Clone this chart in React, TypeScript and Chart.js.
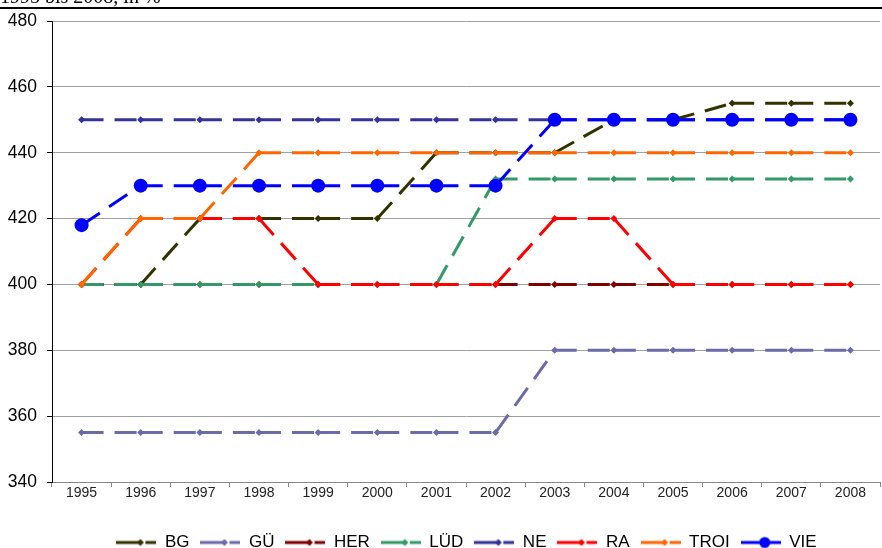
import React, { useEffect, useRef } from "react";
import { Chart, registerables } from "chart.js";

Chart.register(...registerables);

const years = ["1995", "1996", "1997", "1998", "1999", "2000", "2001", "2002", "2003", "2004", "2005", "2006", "2007", "2008"];

const bgValues = [400, 400, 420, 420, 420, 420, 440, 440, 440, 450, 450, 455, 455, 455];
const guValues = [355, 355, 355, 355, 355, 355, 355, 355, 380, 380, 380, 380, 380, 380];
const herValues = [400, 400, 400, 400, 400, 400, 400, 400, 400, 400, 400, 400, 400, 400];
const ludValues = [400, 400, 400, 400, 400, 400, 400, 432, 432, 432, 432, 432, 432, 432];
const neValues = [450, 450, 450, 450, 450, 450, 450, 450, 450, 450, 450, 450, 450, 450];
const raValues = [400, 420, 420, 420, 400, 400, 400, 400, 420, 420, 400, 400, 400, 400];
const troiValues = [400, 420, 420, 440, 440, 440, 440, 440, 440, 440, 440, 440, 440, 440];
const vieValues = [418, 430, 430, 430, 430, 430, 430, 430, 450, 450, 450, 450, 450, 450];

const seriesNames = ["BG", "GÜ", "HER", "LÜD", "NE", "RA", "TROI", "VIE"];
const seriesValues = [bgValues, guValues, herValues, ludValues, neValues, raValues, troiValues, vieValues];
const seriesColors = ["#333300", "#6b6ba8", "#800000", "#339966", "#333399", "#ff0000", "#ff6600", "#0000ff"];
const seriesMarkers = ["rectRot", "rectRot", "rectRot", "rectRot", "rectRot", "rectRot", "rectRot", "circle"];

const yTicks = [340, 360, 380, 400, 420, 440, 460, 480];
const titleText = "1995 bis 2008, in %";

const FONT = 'Arial, "Liberation Sans", sans-serif';

function makeSample(color: string, marker: string): HTMLCanvasElement {
  const c = document.createElement("canvas");
  c.width = 40;
  c.height = 14;
  const g = c.getContext("2d")!;
  g.strokeStyle = color;
  g.lineWidth = 3;
  g.beginPath();
  g.moveTo(0, 7);
  g.lineTo(24, 7);
  g.moveTo(29, 7);
  g.lineTo(40, 7);
  g.stroke();
  g.fillStyle = color;
  g.beginPath();
  if (marker === "circle") {
    g.arc(24, 7, 5.5, 0, Math.PI * 2);
  } else {
    g.moveTo(24, 3.5);
    g.lineTo(27.5, 7);
    g.lineTo(24, 10.5);
    g.lineTo(20.5, 7);
    g.closePath();
  }
  g.fill();
  return c;
}

const shiftLegend = {
  id: "shiftLegend",
  afterLayout(chart: any) {
    if (chart.legend) {
      chart.legend.left = 46;
    }
  },
};

export default function App() {
  const canvasRef = useRef<HTMLCanvasElement | null>(null);

  useEffect(() => {
    const canvas = canvasRef.current;
    if (!canvas) return;
    const samples = seriesNames.map((_, i) => makeSample(seriesColors[i], seriesMarkers[i]));
    const datasets = seriesNames.map((name, i) => ({
      label: name,
      data: seriesValues[i],
      borderColor: seriesColors[i],
      backgroundColor: seriesColors[i],
      borderWidth: 3,
      borderDash: [22, 11],
      borderCapStyle: "butt" as const,
      pointStyle: seriesMarkers[i] as any,
      pointRadius: seriesMarkers[i] === "circle" ? 7 : 3.5,
      pointBorderWidth: 0,
      pointBackgroundColor: seriesColors[i],
      pointBorderColor: seriesColors[i],
      fill: false,
      tension: 0,
      order: seriesNames.length - i,
      segment: {
        borderDashOffset: (ctx: any) => (ctx.p0DataIndex % 2) * 0.001,
      },
    }));

    const chart = new Chart(canvas, {
      type: "line",
      data: { labels: years, datasets },
      plugins: [shiftLegend],
      options: {
        animation: false,
        responsive: false,
        devicePixelRatio: 1,
        layout: { padding: { top: 21, left: 0, right: 0, bottom: 0 } },
        plugins: {
          title: { display: false },
          tooltip: { enabled: false },
          legend: {
            display: true,
            position: "bottom",
            align: "center",
            labels: {
              usePointStyle: true,
              pointStyleWidth: 40,
              padding: 11,
              color: "#000",
              font: { family: FONT, size: 17 },
              generateLabels: () =>
                seriesNames.map((name, i) => ({
                  text: name,
                  pointStyle: samples[i] as any,
                  fillStyle: "rgba(0,0,0,0)",
                  strokeStyle: "rgba(0,0,0,0)",
                  lineWidth: 0,
                  hidden: false,
                  datasetIndex: i,
                  fontColor: "#000",
                })),
            },
          },
        },
        scales: {
          x: {
            type: "category",
            offset: true,
            grid: {
              offset: true,
              drawOnChartArea: false,
              drawTicks: true,
              tickLength: 5,
              color: "#888",
            },
            border: { display: true, color: "#888", width: 1 },
            ticks: {
              color: "#222",
              font: { family: FONT, size: 14 },
              padding: -2,
              maxRotation: 0,
              autoSkip: false,
            },
            afterFit: (scale: any) => {
              scale.height = 41;
            },
          },
          y: {
            min: yTicks[0],
            max: yTicks[yTicks.length - 1],
            afterBuildTicks: (scale: any) => {
              scale.ticks = yTicks.map((v) => ({ value: v }));
            },
            grid: {
              color: "#a0a0a0",
              tickColor: "#000",
              tickLength: 5,
              lineWidth: 1,
            },
            border: { display: true, color: "#000", width: 1 },
            ticks: {
              color: "#000",
              font: { family: FONT, size: 17.5 },
              padding: 10,
            },
            afterFit: (scale: any) => {
              scale.width = 52;
            },
          },
        },
      },
    });
    return () => chart.destroy();
  }, []);

  return (
    <div
      style={{
        position: "fixed",
        left: 0,
        top: 0,
        width: 882,
        height: 548,
        overflow: "hidden",
        background: "#fff",
      }}
    >
      <div style={{ position: "absolute", left: 0, top: 0, width: 887, height: 561 }}>
        <canvas ref={canvasRef} width={887} height={561} style={{ width: 887, height: 561, display: "block" }} />
      </div>
      <div
        style={{
          position: "absolute",
          left: 0,
          top: -14,
          font: '20px "Liberation Serif", "Times New Roman", serif',
          lineHeight: "20px",
          whiteSpace: "nowrap",
          color: "#000",
        }}
      >
        {titleText}
      </div>
      <div style={{ position: "absolute", left: 0, top: 7, width: 882, height: 2, background: "#000" }} />
    </div>
  );
}
